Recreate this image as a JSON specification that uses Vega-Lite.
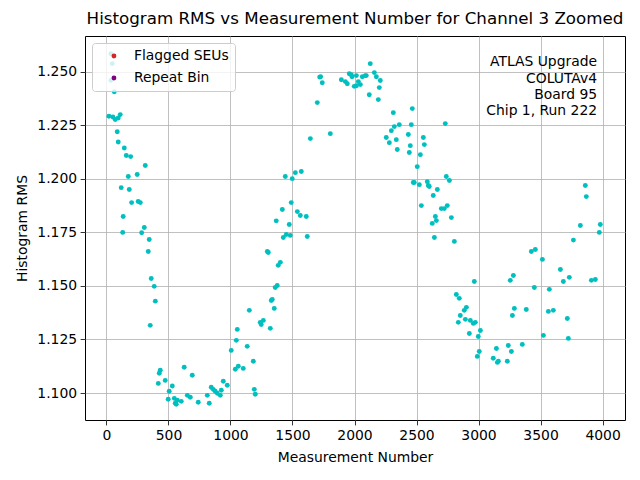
{
  "$schema": "https://vega.github.io/schema/vega-lite/v6.json",
  "width": 540,
  "height": 384,
  "autosize": {"type": "none"},
  "padding": {"left": 85, "top": 36, "right": 15, "bottom": 60},
  "background": "white",
  "title": {
    "text": "Histogram RMS vs Measurement Number for Channel 3 Zoomed",
    "anchor": "middle",
    "frame": "group",
    "font": "DejaVu Sans",
    "fontSize": 16.7,
    "fontWeight": "normal",
    "color": "black",
    "offset": 8
  },
  "config": {
    "view": {"stroke": "black", "strokeWidth": 1},
    "axis": {
      "domain": false,
      "grid": true,
      "gridColor": "#b0b0b0",
      "gridWidth": 0.8,
      "gridOpacity": 1,
      "tickColor": "black",
      "tickSize": 4.9,
      "tickWidth": 0.8,
      "labelFont": "DejaVu Sans",
      "labelFontSize": 13.9,
      "labelColor": "black",
      "labelPadding": 3.5,
      "titleFont": "DejaVu Sans",
      "titleFontSize": 13.9,
      "titleFontWeight": "normal",
      "titleColor": "black"
    },
    "legend": {
      "orient": "top-left",
      "offset": 7,
      "padding": 6,
      "fillColor": "rgba(255,255,255,0.8)",
      "strokeColor": "#cccccc",
      "cornerRadius": 3,
      "symbolType": "circle",
      "symbolSize": 24,
      "symbolStrokeWidth": 0,
      "symbolOffset": 9,
      "labelOffset": 13,
      "labelFont": "DejaVu Sans",
      "labelFontSize": 13.9,
      "labelColor": "black",
      "rowPadding": 7
    }
  },
  "datasets": {
    "points": [
      {"m": 36, "rms": 1.2584}, {"m": 47, "rms": 1.2538}, {"m": 36, "rms": 1.2460}, {"m": 63, "rms": 1.2407},
      {"m": 20, "rms": 1.2292}, {"m": 52, "rms": 1.2289}, {"m": 71, "rms": 1.2277}, {"m": 95, "rms": 1.2284},
      {"m": 111, "rms": 1.2300}, {"m": 87, "rms": 1.2220}, {"m": 95, "rms": 1.2172}, {"m": 144, "rms": 1.2144},
      {"m": 160, "rms": 1.2109}, {"m": 195, "rms": 1.2104}, {"m": 313, "rms": 1.2062}, {"m": 176, "rms": 1.2011},
      {"m": 248, "rms": 1.2020}, {"m": 119, "rms": 1.1959}, {"m": 184, "rms": 1.1950}, {"m": 203, "rms": 1.1889},
      {"m": 256, "rms": 1.1894}, {"m": 273, "rms": 1.1889}, {"m": 135, "rms": 1.1824}, {"m": 305, "rms": 1.1773},
      {"m": 131, "rms": 1.1750}, {"m": 284, "rms": 1.1748}, {"m": 345, "rms": 1.1717}, {"m": 337, "rms": 1.1661},
      {"m": 361, "rms": 1.1535}, {"m": 385, "rms": 1.1498}, {"m": 394, "rms": 1.1429}, {"m": 353, "rms": 1.1316},
      {"m": 434, "rms": 1.1106}, {"m": 426, "rms": 1.1092}, {"m": 418, "rms": 1.1045}, {"m": 474, "rms": 1.1059},
      {"m": 627, "rms": 1.1120}, {"m": 692, "rms": 1.1083}, {"m": 531, "rms": 1.1033}, {"m": 506, "rms": 1.1008},
      {"m": 498, "rms": 1.0971}, {"m": 547, "rms": 1.0975}, {"m": 555, "rms": 1.0952}, {"m": 563, "rms": 1.0947},
      {"m": 571, "rms": 1.0966}, {"m": 603, "rms": 1.0961}, {"m": 652, "rms": 1.0989}, {"m": 676, "rms": 1.0980},
      {"m": 740, "rms": 1.0957}, {"m": 829, "rms": 1.0952}, {"m": 813, "rms": 1.0989}, {"m": 845, "rms": 1.1027},
      {"m": 861, "rms": 1.1017}, {"m": 877, "rms": 1.1008}, {"m": 894, "rms": 1.0999}, {"m": 918, "rms": 1.0989},
      {"m": 926, "rms": 1.1013}, {"m": 942, "rms": 1.1055}, {"m": 974, "rms": 1.1036}, {"m": 1006, "rms": 1.1199},
      {"m": 1039, "rms": 1.1111}, {"m": 1063, "rms": 1.1125}, {"m": 1103, "rms": 1.1115}, {"m": 1047, "rms": 1.1246},
      {"m": 1055, "rms": 1.1297}, {"m": 1135, "rms": 1.1218}, {"m": 1152, "rms": 1.1386}, {"m": 1184, "rms": 1.1148},
      {"m": 1192, "rms": 1.1017}, {"m": 1200, "rms": 1.0994}, {"m": 1240, "rms": 1.1330}, {"m": 1248, "rms": 1.1320},
      {"m": 1265, "rms": 1.1339}, {"m": 1369, "rms": 1.1804}, {"m": 1474, "rms": 1.1787}, {"m": 1426, "rms": 1.1726},
      {"m": 1450, "rms": 1.1740}, {"m": 1482, "rms": 1.1736}, {"m": 1619, "rms": 1.1731}, {"m": 1297, "rms": 1.1661},
      {"m": 1305, "rms": 1.1656}, {"m": 1385, "rms": 1.1596}, {"m": 1402, "rms": 1.1610}, {"m": 1361, "rms": 1.1493},
      {"m": 1377, "rms": 1.1502}, {"m": 1329, "rms": 1.1432}, {"m": 1337, "rms": 1.1437}, {"m": 1353, "rms": 1.1395},
      {"m": 1321, "rms": 1.1302}, {"m": 2127, "rms": 1.2538}, {"m": 1719, "rms": 1.2475}, {"m": 1727, "rms": 1.2477},
      {"m": 1740, "rms": 1.2449}, {"m": 1894, "rms": 1.2463}, {"m": 1926, "rms": 1.2454}, {"m": 1942, "rms": 1.2444},
      {"m": 1958, "rms": 1.2491}, {"m": 1974, "rms": 1.2486}, {"m": 1980, "rms": 1.2477}, {"m": 2015, "rms": 1.2482},
      {"m": 1998, "rms": 1.2432}, {"m": 2015, "rms": 1.2435}, {"m": 2031, "rms": 1.2454}, {"m": 2047, "rms": 1.2440},
      {"m": 2063, "rms": 1.2477}, {"m": 2087, "rms": 1.2482}, {"m": 2095, "rms": 1.2482}, {"m": 2160, "rms": 1.2496},
      {"m": 2176, "rms": 1.2477}, {"m": 2208, "rms": 1.2459}, {"m": 2200, "rms": 1.2426}, {"m": 2119, "rms": 1.2393},
      {"m": 2192, "rms": 1.2370}, {"m": 1700, "rms": 1.2356}, {"m": 2466, "rms": 1.2328}, {"m": 2313, "rms": 1.2309},
      {"m": 2361, "rms": 1.2253}, {"m": 2321, "rms": 1.2244}, {"m": 2297, "rms": 1.2225}, {"m": 2458, "rms": 1.2253},
      {"m": 2732, "rms": 1.2258}, {"m": 1805, "rms": 1.2211}, {"m": 1644, "rms": 1.2188}, {"m": 2256, "rms": 1.2193},
      {"m": 2281, "rms": 1.2169}, {"m": 2337, "rms": 1.2183}, {"m": 2434, "rms": 1.2207}, {"m": 2450, "rms": 1.2155},
      {"m": 2555, "rms": 1.2193}, {"m": 2563, "rms": 1.2160}, {"m": 2345, "rms": 1.2137}, {"m": 2442, "rms": 1.2123},
      {"m": 2531, "rms": 1.2113}, {"m": 2506, "rms": 1.2057}, {"m": 2474, "rms": 1.1983}, {"m": 2482, "rms": 1.1983},
      {"m": 2523, "rms": 1.1973}, {"m": 2587, "rms": 1.1987}, {"m": 2595, "rms": 1.1969}, {"m": 2603, "rms": 1.1964},
      {"m": 2668, "rms": 1.1950}, {"m": 2635, "rms": 1.1922}, {"m": 2740, "rms": 1.2011}, {"m": 2765, "rms": 1.1992},
      {"m": 2539, "rms": 1.1875}, {"m": 2700, "rms": 1.1861}, {"m": 2724, "rms": 1.1861}, {"m": 2748, "rms": 1.1875},
      {"m": 2652, "rms": 1.1824}, {"m": 2660, "rms": 1.1805}, {"m": 2627, "rms": 1.1792}, {"m": 2781, "rms": 1.1819},
      {"m": 1442, "rms": 1.2011}, {"m": 1498, "rms": 1.2001}, {"m": 1523, "rms": 1.2029}, {"m": 1571, "rms": 1.2034},
      {"m": 1490, "rms": 1.1889}, {"m": 1418, "rms": 1.1857}, {"m": 1539, "rms": 1.1847}, {"m": 1563, "rms": 1.1829},
      {"m": 1611, "rms": 1.1824}, {"m": 2644, "rms": 1.1726}, {"m": 2805, "rms": 1.1708}, {"m": 3426, "rms": 1.1661},
      {"m": 3458, "rms": 1.1670}, {"m": 3515, "rms": 1.1624}, {"m": 3660, "rms": 1.1577}, {"m": 3732, "rms": 1.1540},
      {"m": 3684, "rms": 1.1521}, {"m": 3910, "rms": 1.1526}, {"m": 3942, "rms": 1.1530}, {"m": 3281, "rms": 1.1549},
      {"m": 3256, "rms": 1.1526}, {"m": 2966, "rms": 1.1521}, {"m": 3450, "rms": 1.1493}, {"m": 3571, "rms": 1.1484},
      {"m": 2821, "rms": 1.1460}, {"m": 2845, "rms": 1.1442}, {"m": 2902, "rms": 1.1400}, {"m": 2885, "rms": 1.1386},
      {"m": 2853, "rms": 1.1362}, {"m": 2837, "rms": 1.1330}, {"m": 2894, "rms": 1.1344}, {"m": 2934, "rms": 1.1339},
      {"m": 2958, "rms": 1.1325}, {"m": 2974, "rms": 1.1330}, {"m": 3289, "rms": 1.1395}, {"m": 3273, "rms": 1.1362},
      {"m": 3385, "rms": 1.1390}, {"m": 3563, "rms": 1.1381}, {"m": 3603, "rms": 1.1386}, {"m": 3716, "rms": 1.1348},
      {"m": 2926, "rms": 1.1278}, {"m": 3015, "rms": 1.1292}, {"m": 2998, "rms": 1.1264}, {"m": 3523, "rms": 1.1269},
      {"m": 3724, "rms": 1.1255}, {"m": 3006, "rms": 1.1194}, {"m": 2990, "rms": 1.1171}, {"m": 3144, "rms": 1.1208},
      {"m": 3240, "rms": 1.1222}, {"m": 3265, "rms": 1.1194}, {"m": 3353, "rms": 1.1227}, {"m": 3119, "rms": 1.1162},
      {"m": 3152, "rms": 1.1143}, {"m": 3160, "rms": 1.1148}, {"m": 3232, "rms": 1.1148}, {"m": 3765, "rms": 1.1714},
      {"m": 3861, "rms": 1.1969}, {"m": 3869, "rms": 1.1917}, {"m": 3821, "rms": 1.1782}, {"m": 3982, "rms": 1.1787},
      {"m": 3974, "rms": 1.1750}
    ],
    "flagged": [],
    "notes": [
      {"text": ["ATLAS Upgrade", "COLUTAv4\u00a0", "Board 95", "Chip 1, Run 222"]}
    ]
  },
  "layer": [
    {
      "data": {"name": "points"},
      "mark": {"type": "point", "filled": true, "size": 24, "color": "#00bfbf", "opacity": 1},
      "encoding": {
        "x": {
          "field": "m",
          "type": "quantitative",
          "title": "Measurement Number",
          "scale": {"domain": [-173, 4181], "nice": false, "zero": false},
          "axis": {"values": [0, 500, 1000, 1500, 2000, 2500, 3000, 3500, 4000], "format": "d", "titlePadding": 8}
        },
        "y": {
          "field": "rms",
          "type": "quantitative",
          "title": "Histogram RMS",
          "scale": {"domain": [1.0874, 1.2667], "nice": false, "zero": false},
          "axis": {"values": [1.1, 1.125, 1.15, 1.175, 1.2, 1.225, 1.25], "format": ".3f", "titlePadding": 7}
        }
      }
    },
    {
      "data": {"name": "flagged"},
      "mark": {"type": "point", "filled": true, "size": 24, "opacity": 1},
      "encoding": {
        "x": {"field": "m", "type": "quantitative"},
        "y": {"field": "rms", "type": "quantitative"},
        "color": {
          "field": "series",
          "type": "nominal",
          "scale": {"domain": ["Flagged SEUs", "Repeat Bin"], "range": ["#d62728", "#800080"]},
          "legend": {"title": null}
        }
      }
    },
    {
      "data": {"name": "notes"},
      "mark": {
        "type": "text",
        "align": "right",
        "baseline": "top",
        "font": "DejaVu Sans",
        "fontSize": 13.9,
        "lineHeight": 16.3,
        "color": "black"
      },
      "encoding": {
        "text": {"field": "text"},
        "x": {"datum": 3956},
        "y": {"datum": 1.2577}
      }
    }
  ]
}
